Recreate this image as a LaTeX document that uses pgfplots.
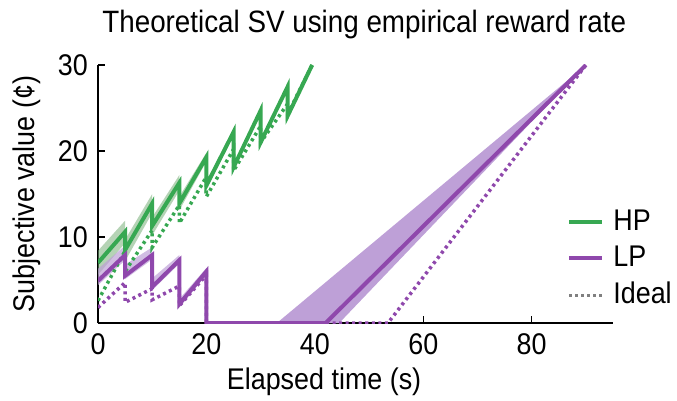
\documentclass[border=0pt]{standalone}
\usepackage{fontspec}
\setmainfont{Liberation Sans}[FakeStretch=0.9]
\usepackage{pgfplots}
\pgfplotsset{compat=1.18}
\definecolor{hpgreen}{RGB}{55,168,82}
\definecolor{lppurple}{RGB}{143,72,172}
\definecolor{lpband}{RGB}{190,160,215}
\definecolor{hpband}{RGB}{120,175,120}
\begin{document}
\fontsize{30}{36}\selectfont
\begin{tikzpicture}
\begin{axis}[
  scale only axis, width=515bp, height=258bp,
  xmin=0, xmax=95, ymin=0, ymax=30,
  axis x line*=bottom, axis y line*=left,
  axis line style={line width=1.3bp, black, -},
  xtick={0,20,40,60,80}, ytick={0,10,20,30},
  tick align=inside, major tick length=7bp,
  tick style={line width=1.3bp, black},
  every tick label/.append style={font=\fontsize{30}{36}\selectfont},
  /pgf/number format/assume math mode=true,
  title={Theoretical SV using empirical reward rate},
  title style={font=\fontsize{31}{36}\selectfont, at={(rel axis cs:0.517,1)}, anchor=base, yshift=27bp},
  xlabel={Elapsed time (s)},
  xlabel style={font=\fontsize{30}{36}\selectfont, at={(rel axis cs:0.439,0)}, anchor=center, yshift=-59bp},
  ylabel={Subjective value (¢)},
  ylabel style={font=\fontsize{30}{36}\selectfont, at={(rel axis cs:-0.138,0.5)}, anchor=center},
  legend style={draw=none, fill=none, font=\fontsize{30}{36}\selectfont,
     at={(rel axis cs:0.911,0.248)}, anchor=west, row sep=7bp, inner sep=0bp,
     /tikz/every odd column/.append style={column sep=7bp}},
  legend cell align=left,
  legend image code/.code={\draw[#1] (0bp,0bp) -- (33bp,0bp);},
]
% HP confidence band
\addplot[forget plot, fill=hpband, fill opacity=0.55, draw=none] coordinates {
 (0,8.4)(5,11.9)(5,9.7)(10,15.0)(10,12.3)(15,17.2)(15,14.7)(20,19.8)(20,16.5)(25,22.6)(25,18.5)(30,25.0)(30,21.3)(35,27.8)(35,24.4)(39.5,30.3)
 (39.5,29.7)(35,23.8)(35,27.2)(30,20.7)(30,24.4)(25,17.7)(25,21.8)(20,15.5)(20,18.8)(15,13.1)(15,15.4)(10,10.2)(10,12.8)(5,7.2)(5,9.3)(0,5.6)};
% LP early band
\addplot[forget plot, fill=lpband, fill opacity=0.7, draw=none] coordinates {
 (0,6.3)(5,9.0)(5,6.8)(10,8.8)(10,5.2)(15,7.9)(15,2.8)(20,6.4)
 (20,5.6)(15,1.8)(15,6.9)(10,3.8)(10,7.4)(5,5.1)(5,7.3)(0,4.4)};
% LP late band
\addplot[forget plot, fill=lpband, draw=none] coordinates {
 (33,0)(44.5,0)(90,30)};
% Ideal HP
\addplot[forget plot, hpgreen, line width=3.5bp, dash pattern=on 3bp off 3.5bp] coordinates {
 (0,2.6)(5,8.4)(5,6.0)(10,10.8)(10,8.8)(15,13.7)(15,11.6)(20,17.0)(20,14.7)(25,20.2)(25,17.7)(30,22.9)(30,21.0)(35,25.5)(35,24.3)(39.5,30)};
% Ideal LP
\addplot[forget plot, lppurple, line width=3.5bp, dash pattern=on 3bp off 3.5bp] coordinates {
 (0,1.8)(5,4.7)(5,2.4)(10,4.0)(10,2.7)(15,4.3)(15,2.0)(20,5.6)(20,0)(53.5,0)(90,30)};
% HP empirical
\addplot[forget plot, hpgreen, line width=4bp] coordinates {
 (0,7.0)(5,10.6)(5,8.5)(10,13.9)(10,11.3)(15,16.3)(15,13.9)(20,19.3)(20,16.0)(25,22.2)(25,18.1)(30,24.7)(30,21.0)(35,27.5)(35,24.1)(39.5,30)};
% LP empirical
\addplot[forget plot, lppurple, line width=4bp] coordinates {
 (0,4.9)(5,7.9)(5,5.5)(10,7.9)(10,4.2)(15,7.3)(15,2.2)(20,6.0)(20,0)(42,0)(90,30)};
\addlegendimage{hpgreen, line width=4bp}
\addlegendentry{HP}
\addlegendimage{lppurple, line width=4bp}
\addlegendentry{LP}
\addlegendimage{gray, line width=3bp, dash pattern=on 3bp off 3bp}
\addlegendentry{Ideal}
\end{axis}
\pgfresetboundingbox
\path[use as bounding box] ([shift={(-98bp,-77bp)}]current axis.south west) rectangle ([shift={(64bp,65bp)}]current axis.north east);
\end{tikzpicture}
\end{document}
